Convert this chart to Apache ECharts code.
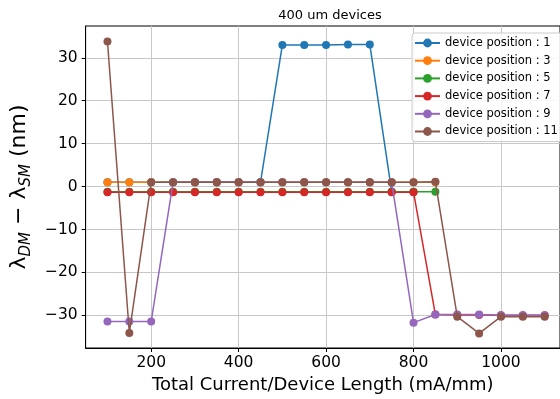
<!DOCTYPE html>
<html>
<head>
<meta charset="utf-8">
<script src="https://cdn.jsdelivr.net/npm/echarts@6/dist/echarts.min.js"></script>
<style>html,body{margin:0;padding:0;background:#fff}#c{width:560px;height:399px}</style>
</head>
<body>
<div id="c"></div>
<script>
const xValues = [100,150,200,250,300,350,400,450,500,550,600,650,700,750,800,850,900,950,1000,1050,1100];
const seriesNames = ['device position : 1','device position : 3','device position : 5','device position : 7','device position : 9','device position : 11'];
const pos1  = [1.0,1.0,1.0,1.0,1.0,1.0,1.0,1.0,33.0,33.0,33.0,33.1,33.1,-1.2,-1.2];
const pos3  = [1.0,1.0,1.0,1.0,1.0,1.0,1.0,1.0,1.0,1.0,1.0,1.0,1.0,1.0,1.0,1.0];
const pos5  = [-1.2,-1.2,-1.2,-1.2,-1.2,-1.2,-1.2,-1.2,-1.2,-1.2,-1.2,-1.2,-1.2,-1.2,-1.2,-1.2];
const pos7  = [-1.3,-1.3,-1.3,-1.3,-1.3,-1.3,-1.3,-1.3,-1.3,-1.3,-1.3,-1.3,-1.3,-1.3,-1.3,-29.8,-29.9,-29.9,-30.0,-30.0,-30.0];
const pos9  = [-31.4,-31.4,-31.4,1.0,1.0,1.0,1.0,1.0,1.0,1.0,1.0,1.0,1.0,1.0,-31.7,-29.8,-29.8,-29.8,-30.0,-30.0,-30.0];
const pos11 = [33.8,-34.1,1.0,1.0,1.0,1.0,1.0,1.0,1.0,1.0,1.0,1.0,1.0,1.0,1.0,1.1,-30.3,-34.2,-30.3,-30.3,-30.3];
const xTicks = [200,400,600,800,1000];
const yTicks = [-30,-20,-10,0,10,20,30];
const colors = ['#1f77b4','#ff7f0e','#2ca02c','#d62728','#9467bd','#8c564b'];

const allData = [pos1,pos3,pos5,pos7,pos9,pos11];
const font = 'DejaVu Sans';
const chart = echarts.init(document.getElementById('c'), null, {renderer:'canvas'});
chart.setOption({
  animation: false,
  color: colors,
  textStyle: {fontFamily: font},
  title: {
    text: '400 um devices', left: 325, top: 4, textAlign: 'center',
    textStyle: {fontFamily: font, fontSize: 13, fontWeight: 'normal', color: '#000'}
  },
  legend: {
    orient: 'vertical', left: 412, top: 33,
    itemWidth: 25, itemHeight: 11, itemGap: 5.7,
    padding: [4, 8, 4, 2],
    backgroundColor: 'rgba(255,255,255,0.85)',
    borderColor: '#cccccc', borderWidth: 1, borderRadius: 3,
    textStyle: {fontFamily: font, fontSize: 11.5, color: '#000', lineHeight: 11},
    data: seriesNames
  },
  grid: {left: 83.5, top: 26, right: 0, height: 322, show: true, borderColor: '#000', borderWidth: 1, containLabel: false},
  xAxis: {
    type: 'value', min: 50, max: 1135,
    name: 'Total Current/Device Length (mA/mm)', nameLocation: 'middle', nameGap: 27,
    nameTextStyle: {fontFamily: font, fontSize: 18, color: '#000'},
    axisLine: {show: true, onZero: false, lineStyle: {color: '#000', width: 1}},
    axisTick: {show: true, inside: false, length: 4, lineStyle: {color: '#000'}, customValues: xTicks},
    axisLabel: {fontFamily: font, fontSize: 15.5, color: '#000', margin: 7, customValues: xTicks,
      formatter: v => String(v)},
    splitLine: {show: true, lineStyle: {color: '#c8c8c8', width: 1}}
  },
  yAxis: {
    type: 'value', min: -37.6, max: 37.4,
    name: '{l|λ}{s|DM}{l| − λ}{s|SM}{l| (nm)}', nameLocation: 'middle', nameGap: 45, nameRotate: 90,
    nameTextStyle: {
      fontFamily: font, color: '#000',
      rich: {
        l: {fontFamily: font, fontSize: 22, color: '#000', lineHeight: 30, verticalAlign: 'middle'},
        s: {fontFamily: font, fontSize: 15, fontStyle: 'italic', color: '#000', lineHeight: 30, verticalAlign: 'bottom'}
      }
    },
    axisLine: {show: true, onZero: false, lineStyle: {color: '#000', width: 1}},
    axisTick: {show: true, inside: false, length: 4, lineStyle: {color: '#000'}, customValues: yTicks},
    axisLabel: {fontFamily: font, fontSize: 15.5, color: '#000', margin: 8, customValues: yTicks,
      formatter: v => (v < 0 ? '\u2212' + Math.abs(v) : String(v))},
    splitLine: {show: true, lineStyle: {color: '#c8c8c8', width: 1}}
  },
  series: seriesNames.map((name, i) => ({
    name: name, type: 'line',
    data: allData[i].map((v, j) => [xValues[j], v]),
    symbol: 'circle', symbolSize: 8,
    lineStyle: {width: 1.5, color: colors[i]},
    itemStyle: {color: colors[i]},
    z: 2 + i
  }))
});
</script>
</body>
</html>
